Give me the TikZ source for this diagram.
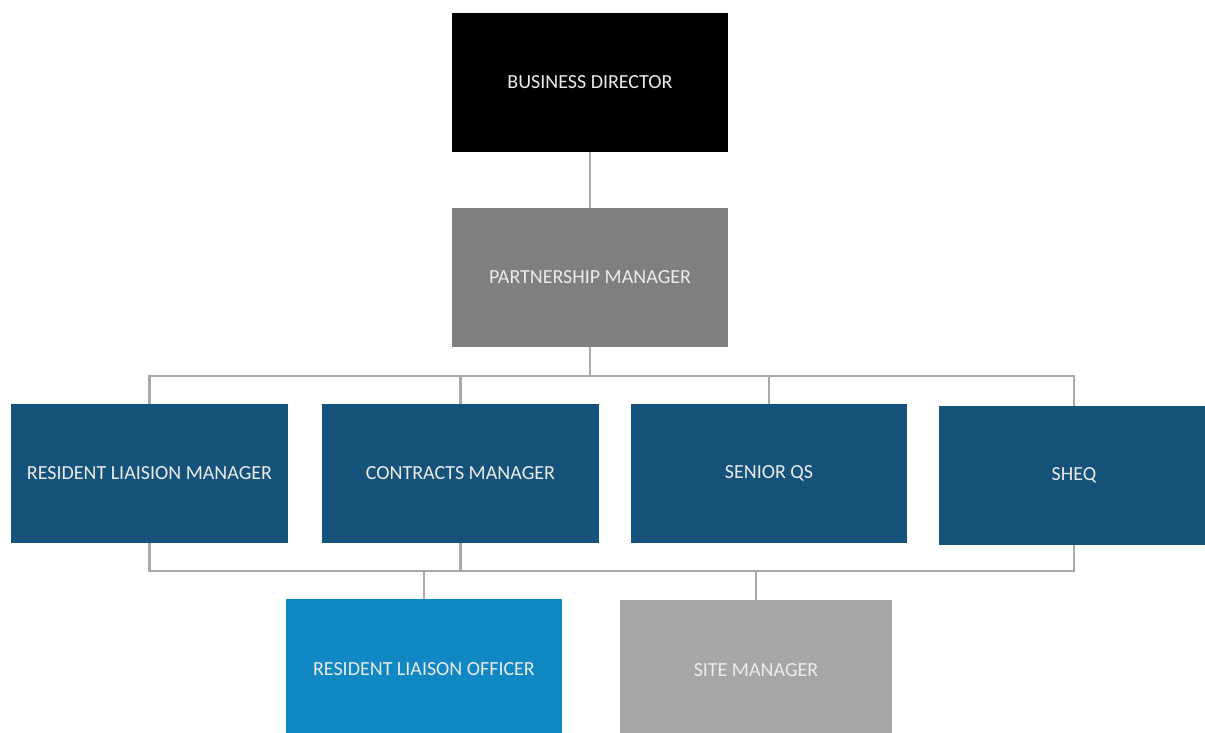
\documentclass[tikz,border=0pt]{standalone}
\usepackage{fontspec}
\setmainfont{Carlito}
\definecolor{navy}{HTML}{16537A}
\definecolor{skyblue}{HTML}{1187C4}
\definecolor{midgrey}{HTML}{7F7F7F}
\definecolor{lightgrey}{HTML}{A6A6A6}
\definecolor{linkgrey}{HTML}{A9A9A9}
\begin{document}
\begin{tikzpicture}[
    x=1pt, y=-1pt,
    every node/.style={font=\fontsize{20}{23}\selectfont, text=white!92!black},
    post/.style={rectangle, minimum width=276pt, minimum height=139pt, inner sep=0pt},
    link/.style={draw=linkgrey, line width=2.6pt}
]
  \useasboundingbox (0,0) rectangle (1205,733);
  % boxes
  \node[post, fill=black] (bd) at (590,82.5) {BUSINESS DIRECTOR};
  \node[post, fill=midgrey] (pm) at (590,277.5) {PARTNERSHIP MANAGER};
  \node[post, fill=navy, minimum width=277pt] (rlm) at (149.5,473.5) {RESIDENT LIAISION MANAGER};
  \node[post, fill=navy, minimum width=277pt] (cm) at (460.5,473.5) {CONTRACTS MANAGER};
  \node[post, fill=navy] (sqs) at (769,473.5) {SENIOR QS};
  \node[post, fill=navy, minimum width=270pt] (sheq) at (1074,475.5) {SHEQ};
  \node[post, fill=skyblue, minimum height=140pt] (rlo) at (424,669) {RESIDENT LIAISON OFFICER};
  \node[post, fill=lightgrey, minimum width=272pt, minimum height=140pt] (sm) at (756,670) {SITE MANAGER};
  % buses
  \coordinate (upper bus) at (590,376);
  \coordinate (lower bus) at (590,571);
  % connectors
  \draw[link] (bd) -- (pm);
  \draw[link] (pm) -- (upper bus);
  \draw[link] (rlm.north) |- (upper bus) -| (sheq.north);
  \draw[link] (cm.north) -- (cm.north |- upper bus);
  \draw[link] (sqs.north) -- (sqs.north |- upper bus);
  \draw[link] (rlm.south) |- (lower bus) -| (sheq.south);
  \draw[link] (cm.south) -- (cm.south |- lower bus);
  \draw[link] (rlo.north) -- (rlo.north |- lower bus);
  \draw[link] (sm.north) -- (sm.north |- lower bus);
\end{tikzpicture}
\end{document}
